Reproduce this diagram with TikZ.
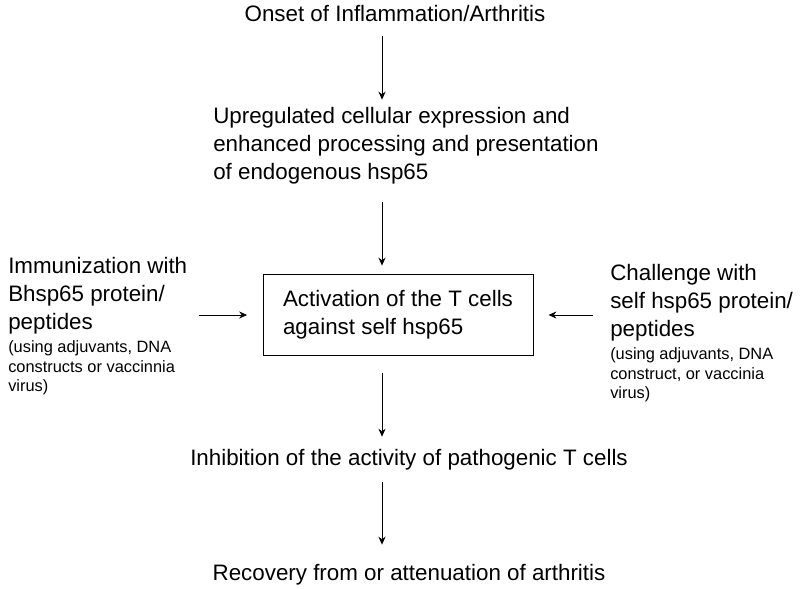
\documentclass[tikz,border=0pt]{standalone}
\usepackage{fontspec}
\setmainfont{Liberation Sans}
\usetikzlibrary{arrows.meta}
\tikzset{
  big/.style={font=\fontsize{15.9}{19.9}\selectfont, inner sep=0pt},
  note/.style={font=\fontsize{11.65}{14}\selectfont, inner sep=0pt, align=left},
  flow/.style={->, line width=0.55pt},
}
\begin{document}
\begin{tikzpicture}[>={Stealth[length=5.6pt,width=5pt]}, x=0.025cm, y=-0.025cm]
\useasboundingbox (0,0) rectangle (800,588);

% Colonna centrale
\coordinate (axis) at (382,0);
\node[big] (onset) at (395,14) {Onset of Inflammation/Arthritis};
\node[big, align=left, anchor=west] (upreg) at (213,146)
  {Upregulated cellular expression and\\ enhanced processing and presentation\\ of endogenous hsp65};
\node[big, draw, line width=0.7pt, align=left, minimum width=192pt, minimum height=57.6pt] (act) at (398,315)
  {Activation of the T cells\\ against self hsp65};
\node[big] (inhib) at (409,460) {Inhibition of the activity of pathogenic T cells};
\node[big] (recov) at (409,575) {Recovery from or attenuation of arthritis};

% Ingressi laterali
\node[big, align=left, anchor=west] (immun) at (8,296) {Immunization with\\ Bhsp65 protein/\\ peptides};
\node[note, anchor=west] (immunnote) at (8,368) {(using adjuvants, DNA\\ constructs or vaccinnia\\ virus)};
\node[big, align=left, anchor=west] (chall) at (610,303) {Challenge with\\ self hsp65 protein/\\ peptides};
\node[note, anchor=west] (challnote) at (610,375) {(using adjuvants, DNA\\ construct, or vaccinia\\ virus)};

% Frecce
\draw[flow, shorten <=9.5pt, shorten >=5.5pt] (onset.south -| axis) -- (upreg.north -| axis);
\draw[flow, shorten <=12.5pt, shorten >=6pt] (upreg.south -| axis) -- (act.north -| axis);
\draw[flow, shorten <=12pt, shorten >=9pt] (act.south -| axis) -- (inhib.north -| axis);
\draw[flow, shorten <=8pt, shorten >=14pt] (inhib.south -| axis) -- (recov.north -| axis);
\draw[flow, shorten <=8pt, shorten >=11pt] (immun.east |- act.west) -- (act.west);
\draw[flow, shorten <=12pt, shorten >=10.7pt] (chall.west |- act.east) -- (act.east);

\end{tikzpicture}
\end{document}
